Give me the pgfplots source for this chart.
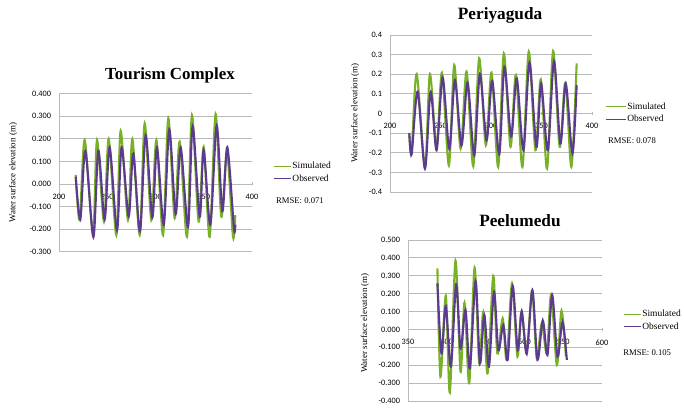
\documentclass[border=0pt]{standalone}
\usepackage{pgfplots}
\pgfplotsset{compat=1.18}
\usepackage{fontspec}
\setmainfont{Liberation Serif}
\newfontfamily\calib{Carlito}
\definecolor{simg}{RGB}{120,176,40}
\definecolor{obsp}{RGB}{92,58,142}
\definecolor{gridc}{RGB}{185,185,185}

\pgfplotsset{
 panel/.style={
  scale only axis, clip mode=individual,
  axis x line=middle, axis y line=left,
  axis line style={gridc,-,line width=0.8bp},
  ymajorgrids, grid style={gridc,line width=0.8bp},
  hide obscured x ticks=false, hide obscured y ticks=false,
  xtick style={gridc,line width=0.8bp}, major tick length=3bp,
  ytick style={draw=none},
  tick label style={font=\calib\fontsize{8.3}{10}\selectfont, text=black},
  /pgf/number format/assume math mode=true,
  xticklabel style={yshift=-5bp},
  yticklabel style={xshift=-3bp},
  ylabel={Water surface elevation (m)},
  ylabel style={font=\fontsize{9}{10}\selectfont, anchor=center},
  title style={font=\bfseries\fontsize{17}{19}\selectfont, anchor=center},
  legend style={draw=none, fill=none, anchor=west, font=\fontsize{9.5}{10}\selectfont,
     row sep=2.5bp, inner sep=0pt, nodes={inner sep=1pt}},
  legend cell align=left,
  legend image code/.code={\draw[#1,line width=1.2bp] (0bp,0bp) -- (17bp,0bp);},
  sim/.style={simg, line width=2.1bp, smooth, tension=0.5, mark=none},
  obs/.style={obsp, line width=2.1bp, smooth, tension=0.5, mark=none},
 }
}

\begin{document}
\begin{tikzpicture}
\path[use as bounding box] (0,0) rectangle (684bp,410bp);

% ---------------- Tourism Complex ----------------
\begin{axis}[panel,
  at={(59bp,158.3bp)}, anchor=south west, width=193bp, height=158bp,
  xmin=200, xmax=400, ymin=-0.3, ymax=0.4,
  xtick={200,250,300,350,400},
  ytick={-0.3,-0.2,-0.1,0,0.1,0.2,0.3,0.4},
  yticklabel style={/pgf/number format/.cd, fixed, fixed zerofill, precision=3},
  title={Tourism Complex},
  title style={at={(axis description cs:0.575,1.080)}},
  ylabel style={at={(axis description cs:-0.238,0.5)}},
  legend style={at={(axis description cs:1.109,0.501)}},
]
\addplot[sim] coordinates {
(217.3,0.040) (221.4,-0.160) (226.6,0.195) (235.2,-0.220) (239.4,0.195)
(246.6,-0.167) (251.5,0.199) (259.4,-0.226) (263.9,0.236) (271.5,-0.160)
(276.0,0.199) (283.6,-0.226) (288.8,0.269) (295.7,-0.160) (300.9,0.195)
(307.8,-0.226) (313.3,0.291) (319.9,-0.152) (325.0,0.187) (332.6,-0.234)
(337.8,0.305) (344.7,-0.167) (349.9,0.165) (356.1,-0.234) (362.3,0.310)
(368.2,-0.145) (374.1,0.140) (380.3,-0.234) (382.7,-0.138)};
\addlegendentry{Simulated}
\addplot[obs] coordinates {
(217.3,0.032) (222.1,-0.157) (227.3,0.147) (235.6,-0.235) (240.8,0.147)
(247.3,-0.157) (252.5,0.162) (260.1,-0.205) (264.9,0.162) (272.2,-0.143)
(277.0,0.135) (283.9,-0.209) (289.8,0.216) (296.7,-0.148) (301.5,0.162)
(308.5,-0.180) (314.3,0.241) (320.9,-0.133) (326.1,0.162) (333.7,-0.190)
(338.5,0.256) (345.8,-0.145) (349.9,0.150) (356.8,-0.180) (363.4,0.259)
(369.3,-0.120) (374.4,0.163) (381.3,-0.195) (382.7,-0.180)};
\addlegendentry{Observed}
\node[anchor=west, font=\fontsize{8.7}{10}\selectfont, inner sep=0pt] at (axis description cs:1.124,0.323) {RMSE: 0.071};
\end{axis}

% ---------------- Periyaguda ----------------
\begin{axis}[panel,
  at={(390bp,218bp)}, anchor=south west, width=202bp, height=157bp,
  xmin=200, xmax=400, ymin=-0.4, ymax=0.4,
  xtick={200,250,300,350,400},
  ytick={-0.4,-0.3,-0.2,-0.1,0,0.1,0.2,0.3,0.4},
  title={Periyaguda},
  title style={at={(axis description cs:0.545,1.086)}, font=\bfseries\fontsize{17.3}{19}\selectfont},
  ylabel style={at={(axis description cs:-0.173,0.503)}},
  legend style={at={(axis description cs:1.064,0.503)}},
  legend image code/.code={\draw[#1,line width=1.2bp] (0bp,0bp) -- (20bp,0bp);},
]
\addplot[sim] coordinates {
(219.1,-0.102) (221.4,-0.196) (226.4,0.201) (234.6,-0.272) (239.5,0.201)
(246.1,-0.170) (251.4,0.208) (258.3,-0.264) (263.6,0.247) (269.9,-0.179)
(275.8,0.213) (282.4,-0.269) (288.3,0.281) (294.9,-0.162) (300.5,0.208)
(307.1,-0.272) (312.7,0.306) (319.3,-0.170) (324.6,0.196) (331.1,-0.272)
(337.4,0.315) (344.0,-0.187) (349.3,0.174) (355.5,-0.281) (361.5,0.318)
(368.0,-0.170) (373.6,0.157) (379.6,-0.272) (384.8,0.255)};
\addlegendentry{Simulated}
\addplot[obs] coordinates {
(219.1,-0.100) (221.4,-0.208) (227.3,0.111) (234.6,-0.281) (240.2,0.111)
(246.1,-0.187) (252.1,0.184) (258.7,-0.180) (264.3,0.170) (270.8,-0.162)
(276.8,0.157) (283.4,-0.213) (289.0,0.201) (295.6,-0.136) (301.2,0.165)
(308.1,-0.208) (313.3,0.238) (319.9,-0.116) (325.5,0.179) (332.1,-0.187)
(338.1,0.259) (345.0,-0.170) (349.6,0.153) (356.2,-0.187) (362.4,0.267)
(368.7,-0.153) (374.0,0.153) (380.6,-0.204) (384.8,0.145)};
\addlegendentry{Observed}
\node[anchor=west, font=\fontsize{8.7}{10}\selectfont, inner sep=0pt] at (axis description cs:1.079,0.325) {RMSE: 0.078};
\end{axis}

% ---------------- Peelumedu ----------------
\begin{axis}[panel,
  at={(408bp,9bp)}, anchor=south west, width=194bp, height=161bp,
  xmin=350, xmax=600, ymin=-0.4, ymax=0.5,
  xtick={350,400,450,500,550,600},
  ytick={-0.4,-0.3,-0.2,-0.1,0,0.1,0.2,0.3,0.4,0.5},
  yticklabel style={/pgf/number format/.cd, fixed, fixed zerofill, precision=3},
  title={Peelumedu},
  title style={at={(axis description cs:0.577,1.081)}, font=\bfseries\fontsize{17.3}{19}\selectfont},
  ylabel style={at={(axis description cs:-0.222,0.484)}},
  legend style={at={(axis description cs:1.108,0.5)}},
]
\addplot[sim] coordinates {
(387.9,0.342) (391.8,-0.264) (398.7,0.187) (403.9,-0.353) (411.2,0.384)
(417.7,-0.236) (422.8,0.150) (428.9,-0.301) (435.8,0.345) (441.8,-0.190)
(447.0,0.100) (452.6,-0.245) (459.9,0.299) (465.1,-0.134) (472.0,0.062)
(477.2,-0.170) (484.1,0.258) (491.0,-0.152) (496.1,0.100) (503.0,-0.124)
(509.9,0.217) (515.9,-0.160) (522.4,0.034) (528.9,-0.133) (534.5,0.196)
(541.8,-0.199) (547.8,0.105) (553.5,-0.150)};
\addlegendentry{Simulated}
\addplot[obs] coordinates {
(387.9,0.258) (393.1,-0.134) (398.7,0.131) (405.2,-0.208) (412.1,0.252)
(417.7,-0.106) (424.1,0.109) (429.7,-0.217) (437.1,0.270) (442.7,-0.190)
(448.3,0.081) (454.3,-0.208) (460.8,0.210) (466.4,-0.115) (472.8,0.025)
(478.4,-0.170) (484.9,0.243) (491.4,-0.115) (496.6,0.100) (503.0,-0.137)
(510.3,0.220) (516.8,-0.170) (523.7,0.050) (529.7,-0.143) (535.8,0.193)
(542.7,-0.152) (549.1,0.043) (554.7,-0.170)};
\addlegendentry{Observed}
\node[anchor=west, font=\fontsize{8.7}{10}\selectfont, inner sep=0pt] at (axis description cs:1.109,0.298) {RMSE: 0.105};
\end{axis}
\end{tikzpicture}
\end{document}
